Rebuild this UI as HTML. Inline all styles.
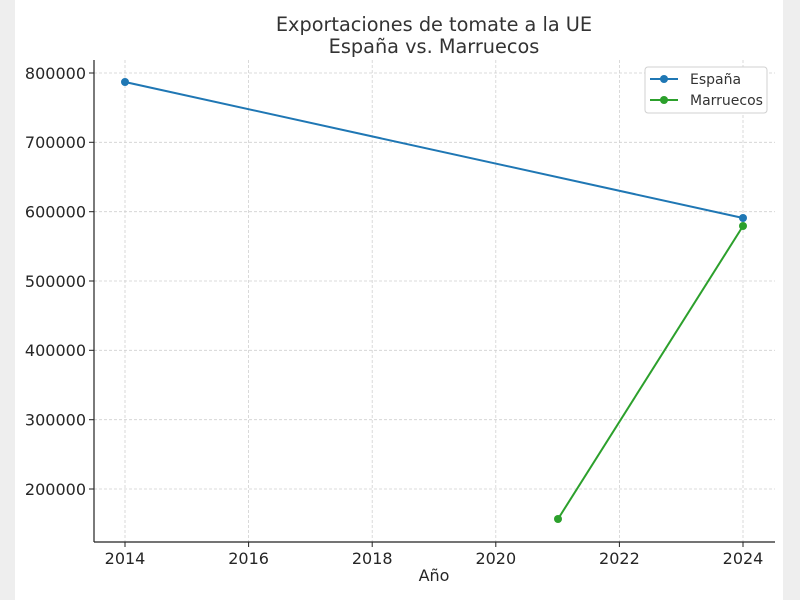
<!DOCTYPE html>
<html><head><meta charset="utf-8"><style>
html,body{margin:0;width:800px;height:600px;overflow:hidden;background:#eeeeee;font-family:"DejaVu Sans","Liberation Sans",sans-serif;}
svg{display:block}
</style></head><body>
<svg width="800" height="600" xmlns="http://www.w3.org/2000/svg" font-family="DejaVu Sans, Liberation Sans, sans-serif">
<rect x="0" y="0" width="800" height="600" fill="#eeeeee"/>
<rect x="15" y="0" width="768" height="600" fill="#ffffff"/>
<g stroke="#d0d0d0" stroke-dasharray="3,2" stroke-width="0.8">
<line x1="125" y1="60" x2="125" y2="542"/><line x1="248.6" y1="60" x2="248.6" y2="542"/><line x1="372.2" y1="60" x2="372.2" y2="542"/><line x1="495.8" y1="60" x2="495.8" y2="542"/><line x1="619.4" y1="60" x2="619.4" y2="542"/><line x1="743" y1="60" x2="743" y2="542"/>
<line x1="94" y1="73" x2="775" y2="73"/><line x1="94" y1="142.3" x2="775" y2="142.3"/><line x1="94" y1="211.7" x2="775" y2="211.7"/><line x1="94" y1="281" x2="775" y2="281"/><line x1="94" y1="350.3" x2="775" y2="350.3"/><line x1="94" y1="419.7" x2="775" y2="419.7"/><line x1="94" y1="489" x2="775" y2="489"/>
</g>
<g stroke="#222" stroke-width="1.2"><line x1="94" y1="60" x2="94" y2="542"/><line x1="94" y1="542" x2="775" y2="542"/></g>
<g stroke="#222"><line x1="89" y1="73" x2="94" y2="73"/><line x1="89" y1="142.3" x2="94" y2="142.3"/><line x1="89" y1="211.7" x2="94" y2="211.7"/><line x1="89" y1="281" x2="94" y2="281"/><line x1="89" y1="350.3" x2="94" y2="350.3"/><line x1="89" y1="419.7" x2="94" y2="419.7"/><line x1="89" y1="489" x2="94" y2="489"/>
<line x1="125" y1="542" x2="125" y2="547"/><line x1="248.6" y1="542" x2="248.6" y2="547"/><line x1="372.2" y1="542" x2="372.2" y2="547"/><line x1="495.8" y1="542" x2="495.8" y2="547"/><line x1="619.4" y1="542" x2="619.4" y2="547"/><line x1="743" y1="542" x2="743" y2="547"/></g>
<g font-size="16" fill="#262626" text-anchor="end">
<text x="86" y="79">800000</text><text x="86" y="148">700000</text><text x="86" y="217.5">600000</text><text x="86" y="287">500000</text><text x="86" y="356">400000</text><text x="86" y="425.5">300000</text><text x="86" y="495">200000</text></g>
<g font-size="16" fill="#262626" text-anchor="middle">
<text x="125" y="564">2014</text><text x="248.6" y="564">2016</text><text x="372.2" y="564">2018</text><text x="495.8" y="564">2020</text><text x="619.4" y="564">2022</text><text x="743" y="564">2024</text>
<text x="434" y="581">Año</text>
<text x="434" y="31" font-size="19.3" fill="#333">Exportaciones de tomate a la UE</text>
<text x="434" y="53" font-size="19.3" fill="#333">España vs. Marruecos</text></g>
<polyline points="125,82 743,218" fill="none" stroke="#1f77b4" stroke-width="2"/>
<circle cx="125" cy="82" r="4" fill="#1f77b4"/><circle cx="743" cy="218" r="4" fill="#1f77b4"/>
<polyline points="558,519 743,226" fill="none" stroke="#2ca02c" stroke-width="2"/>
<circle cx="558" cy="519" r="4" fill="#2ca02c"/><circle cx="743" cy="226" r="4" fill="#2ca02c"/>
<rect x="645" y="67" width="122" height="46" rx="3" fill="#fff" stroke="#d0d0d0"/>
<line x1="650" y1="79" x2="678" y2="79" stroke="#1f77b4" stroke-width="2"/><circle cx="664" cy="79" r="4" fill="#1f77b4"/>
<line x1="650" y1="100" x2="678" y2="100" stroke="#2ca02c" stroke-width="2"/><circle cx="664" cy="100" r="4" fill="#2ca02c"/>
<text x="690" y="84" font-size="14" fill="#333">España</text>
<text x="690" y="105" font-size="14" fill="#333">Marruecos</text>
</svg>
</body></html>
